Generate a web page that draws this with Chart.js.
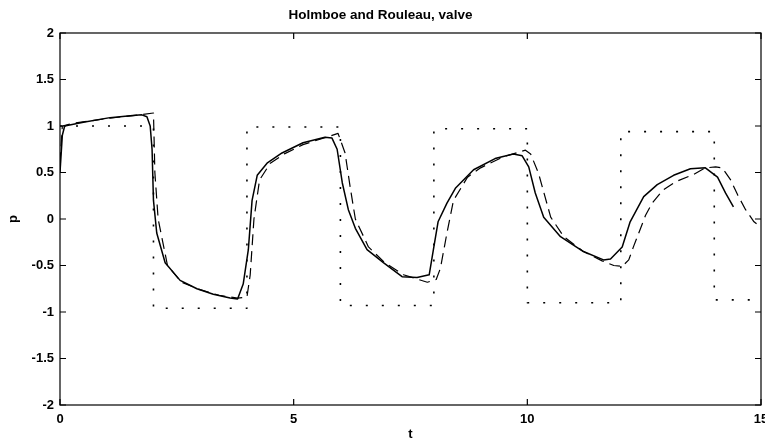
<!DOCTYPE html>
<html>
<head>
<meta charset="utf-8">
<title>Holmboe and Rouleau, valve</title>
<script src="https://cdn.jsdelivr.net/npm/chart.js@4/dist/chart.umd.min.js"></script>
<style>
  html, body { margin: 0; padding: 0; background: #fff; }
  canvas { display: block; }
</style>
</head>
<body>
<canvas id="valveChart" width="765" height="442"></canvas>
<script>
// valve input: square wave of the opening signal
const tValve = [0, 2, 2, 4, 4, 6, 6, 8, 8, 10, 10, 12, 12, 14, 14, 15];
const pValve = [1.0, 1.0, -0.96, -0.96, 0.99, 0.99, -0.93, -0.93, 0.97, 0.97, -0.90, -0.90, 0.94, 0.94, -0.87, -0.87];

// pressure, solid curve
const tSolid = [0, 0.05, 0.1, 0.5, 1.07, 1.5, 1.75, 1.86, 1.93, 1.97, 2.0, 2.07, 2.25, 2.57, 2.93, 3.28, 3.64, 3.8,
  3.92, 4.03, 4.11, 4.22, 4.43, 4.75, 5.2, 5.67, 5.82, 5.93, 6.04, 6.17, 6.32, 6.57, 6.92, 7.32, 7.64, 7.9,
  7.99, 8.09, 8.28, 8.46, 8.85, 9.31, 9.7, 9.89, 10.03, 10.17, 10.35, 10.71, 11.2, 11.63, 11.78, 12.03,
  12.2, 12.49, 12.78, 13.13, 13.49, 13.81, 14.07, 14.24, 14.41];
const pSolid = [0.5, 0.9, 1.0, 1.04, 1.09, 1.11, 1.12, 1.1, 1.0, 0.75, 0.2, -0.15, -0.47, -0.66, -0.75, -0.81, -0.85, -0.86,
  -0.7, -0.33, 0.2, 0.47, 0.6, 0.71, 0.82, 0.88, 0.87, 0.75, 0.39, 0.1, -0.1, -0.33, -0.47, -0.62, -0.63, -0.6,
  -0.33, -0.03, 0.17, 0.33, 0.53, 0.65, 0.7, 0.68, 0.56, 0.28, 0.02, -0.19, -0.35, -0.44, -0.43, -0.3,
  -0.03, 0.24, 0.37, 0.47, 0.54, 0.55, 0.45, 0.28, 0.13];

// pressure, dashed curve
const tDashed = [0, 0.05, 0.3, 1.0, 1.7, 2.0, 2.03, 2.1, 2.3, 2.6, 3.0, 3.4, 3.8, 4.0, 4.07, 4.15, 4.27, 4.5, 4.8,
  5.2, 5.7, 5.95, 6.1, 6.21, 6.32, 6.6, 6.95, 7.35, 7.86, 8.05, 8.14, 8.28, 8.42, 8.72, 9.0, 9.49, 9.96,
  10.07, 10.24, 10.5, 10.78, 11.2, 11.6, 11.85, 12.03, 12.17, 12.27, 12.53, 12.67, 12.9, 13.17, 13.56,
  13.81, 14.03, 14.17, 14.35, 14.5, 14.67, 14.85, 15.0];
const pDashed = [0.6, 1.0, 1.03, 1.08, 1.12, 1.14, 0.5, 0.0, -0.5, -0.68, -0.76, -0.82, -0.85, -0.84, -0.6, 0.0, 0.42, 0.6, 0.7,
  0.8, 0.88, 0.92, 0.71, 0.34, 0.0, -0.3, -0.47, -0.6, -0.68, -0.65, -0.53, -0.15, 0.2, 0.45, 0.55, 0.67, 0.74,
  0.7, 0.49, 0.02, -0.19, -0.35, -0.45, -0.5, -0.51, -0.44, -0.3, 0.04, 0.17, 0.31, 0.4, 0.48,
  0.55, 0.56, 0.55, 0.42, 0.26, 0.1, -0.03, -0.09];

const xTicks = [0, 5, 10, 15];
const yTicks = [-2, -1.5, -1, -0.5, 0, 0.5, 1, 1.5, 2];

const toPoints = (ts, ps) => ts.map((t, i) => ({ x: t, y: ps[i] }));

const FONT = "'Liberation Sans', Arial, sans-serif";

// box around the plot with inward tick marks, like the old matlab axes
const axesBox = {
  id: 'axesBox',
  afterDraw(chart) {
    const { ctx, chartArea: a, scales } = chart;
    const len = 6;
    ctx.save();
    ctx.strokeStyle = '#000';
    ctx.lineWidth = 1.2;
    ctx.strokeRect(a.left, a.top, a.right - a.left, a.bottom - a.top);
    ctx.beginPath();
    xTicks.forEach(v => {
      const x = scales.x.getPixelForValue(v);
      ctx.moveTo(x, a.bottom); ctx.lineTo(x, a.bottom - len);
      ctx.moveTo(x, a.top); ctx.lineTo(x, a.top + len);
    });
    yTicks.forEach(v => {
      const y = scales.y.getPixelForValue(v);
      ctx.moveTo(a.left, y); ctx.lineTo(a.left + len, y);
      ctx.moveTo(a.right, y); ctx.lineTo(a.right - len, y);
    });
    ctx.stroke();
    ctx.restore();
  }
};

const lineStyle = { borderColor: '#000', pointRadius: 0, tension: 0, fill: false, borderJoinStyle: 'round' };
const tickFont = { family: FONT, size: 13, weight: 'bold' };

new Chart(document.getElementById('valveChart'), {
  type: 'line',
  data: {
    datasets: [
      Object.assign({ label: 'valve', data: toPoints(tValve, pValve), borderWidth: 1.6, borderDash: [2, 14], borderCapStyle: 'butt' }, lineStyle),
      Object.assign({ label: 'dashed', data: toPoints(tDashed, pDashed), borderWidth: 1.2, borderDash: [11, 6] }, lineStyle),
      Object.assign({ label: 'solid', data: toPoints(tSolid, pSolid), borderWidth: 1.5 }, lineStyle)
    ]
  },
  options: {
    responsive: false,
    animation: false,
    devicePixelRatio: 1,
    layout: { padding: { left: 0, right: 4, top: 0, bottom: 0 } },
    plugins: {
      legend: { display: false },
      tooltip: { enabled: false },
      title: {
        display: true,
        text: 'Holmboe and Rouleau, valve',
        color: '#000',
        font: { family: FONT, size: 13.5, weight: 'bold' },
        padding: { top: 7, bottom: 9.8 }
      }
    },
    scales: {
      x: {
        type: 'linear',
        min: 0, max: 15,
        afterBuildTicks: s => { s.ticks = xTicks.map(v => ({ value: v })); },
        afterFit: s => { s.height = 37; s.paddingLeft = 0; s.paddingRight = 0; },
        ticks: { color: '#000', padding: 7, maxRotation: 0, callback: v => String(v), font: tickFont },
        grid: { display: false, drawTicks: false },
        border: { display: false },
        title: { display: true, text: 't', color: '#000', padding: { top: 0, bottom: 0 }, font: tickFont }
      },
      y: {
        min: -2, max: 2,
        afterBuildTicks: s => { s.ticks = yTicks.map(v => ({ value: v })); },
        afterFit: s => { s.width = 60; s.paddingTop = 0; s.paddingBottom = 0; },
        ticks: { color: '#000', padding: 6, callback: v => String(v), font: tickFont },
        grid: { display: false, drawTicks: false },
        border: { display: false },
        title: { display: true, text: 'p', color: '#000', padding: { top: 6, bottom: 0 }, font: tickFont }
      }
    }
  },
  plugins: [axesBox]
});
</script>
</body>
</html>
